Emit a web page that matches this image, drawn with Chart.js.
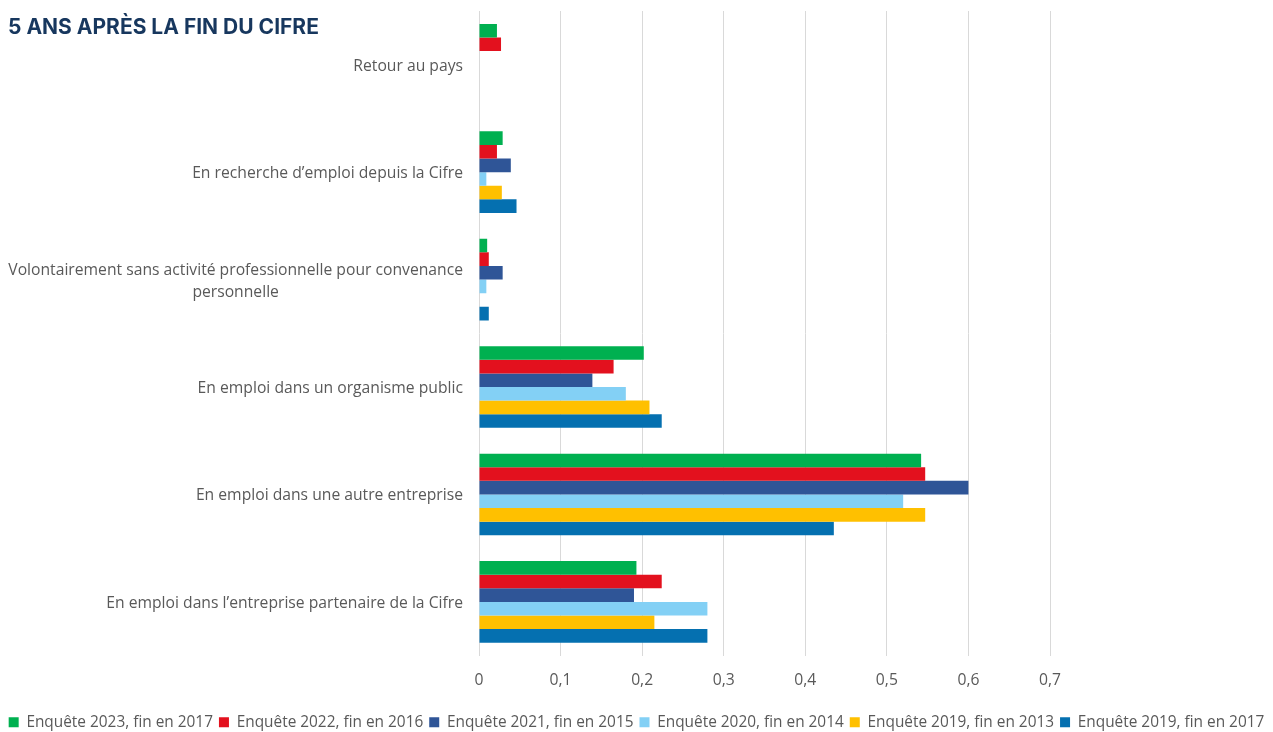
<!DOCTYPE html>
<html><head><meta charset="utf-8">
<script src="https://cdn.jsdelivr.net/npm/chart.js@4"></script>
<style>
html,body{margin:0;padding:0;background:#fff;}
#wrap{position:relative;width:1273px;height:732px;}
#title{position:absolute;left:8px;top:14px;font:bold 21px Inter, sans-serif;color:#17375E;white-space:nowrap;}
</style></head><body>
<div id="wrap"><div id="title">5 ANS APRÈS LA FIN DU CIFRE</div><canvas id="c" width="1273" height="732"></canvas></div>
<script>
const categories = ["Retour au pays", "En recherche d’emploi depuis la Cifre", ["Volontairement sans activité professionnelle pour convenance", "personnelle"], "En emploi dans un organisme public", "En emploi dans une autre entreprise", "En emploi dans l’entreprise partenaire de la Cifre"];
const seriesNames = ["Enquête 2023, fin en 2017", "Enquête 2022, fin en 2016", "Enquête 2021, fin en 2015", "Enquête 2020, fin en 2014", "Enquête 2019, fin en 2013", "Enquête 2019, fin en 2017"];
const s2023 = [0.022, 0.029, 0.010, 0.202, 0.542, 0.193];
const s2022 = [0.027, 0.022, 0.012, 0.165, 0.547, 0.224];
const s2021 = [null, 0.039, 0.029, 0.139, 0.600, 0.190];
const s2020 = [null, 0.009, 0.009, 0.180, 0.520, 0.280];
const s2019a = [null, 0.028, null, 0.209, 0.547, 0.215];
const s2019b = [null, 0.046, 0.012, 0.224, 0.435, 0.280];
const xTickLabels = ["0", "0,1", "0,2", "0,3", "0,4", "0,5", "0,6", "0,7"];
const colors = ["#00B050", "#E3111E", "#2F5597", "#83D0F5", "#FFC000", "#0570B0"];
const seriesValues = [s2023, s2022, s2021, s2020, s2019a, s2019b];

const FONT = '"Open Sans", sans-serif';
const FS = 15.7;
const catLabelPlugin = {
  id: 'catLabels',
  afterDraw(chart) {
    const ctx = chart.ctx, y = chart.scales.y;
    ctx.save();
    ctx.font = FS + 'px ' + FONT;
    ctx.fillStyle = '#595959';
    ctx.textBaseline = 'middle';
    ctx.textAlign = 'center';
    const right = chart.chartArea.left - 16;
    categories.forEach((lab, i) => {
      const lines = Array.isArray(lab) ? lab : [lab];
      const w = Math.max(...lines.map(l => ctx.measureText(l).width));
      const cx = right - w / 2;
      const yc = y.getPixelForValue(i) + 1.5;
      lines.forEach((l, j) => ctx.fillText(l, cx, yc + (j - (lines.length - 1) / 2) * 22));
    });
    ctx.restore();
  }
};

new Chart(document.getElementById('c'), {
  type: 'bar',
  data: {
    labels: categories,
    datasets: seriesNames.map((n, i) => ({
      label: n, data: seriesValues[i], backgroundColor: colors[i], borderWidth: 0,
      categoryPercentage: 0.76, barPercentage: 1.0
    }))
  },
  options: {
    indexAxis: 'y',
    responsive: false,
    animation: false,
    devicePixelRatio: 1,
    layout: { padding: { top: 11, left: 0, right: 0, bottom: -8 } },
    scales: {
      x: {
        min: 0, max: 0.7,
        grid: { color: '#d9d9d9', lineWidth: 1, drawTicks: false },
        border: { display: false },
        ticks: { stepSize: 0.1, padding: 16, color: '#595959', font: { family: FONT, size: FS },
          callback: (v, i) => xTickLabels[i] },
        afterFit: s => { s.height = 53; }
      },
      y: {
        type: 'category',
        grid: { display: false }, border: { display: false },
        ticks: { display: false },
        afterFit: s => { s.width = 479; }
      },
      y2: {
        type: 'category', labels: categories, position: 'right',
        grid: { display: false }, border: { display: false },
        ticks: { display: false },
        afterFit: s => { s.width = 223; }
      }
    },
    plugins: {
      legend: {
        position: 'bottom',
        labels: { boxWidth: 10, boxHeight: 10, padding: 6, color: '#595959', font: { family: FONT, size: 15.4 } }
      },
      tooltip: { enabled: false }
    }
  },
  plugins: [catLabelPlugin]
});
</script>
</body></html>
